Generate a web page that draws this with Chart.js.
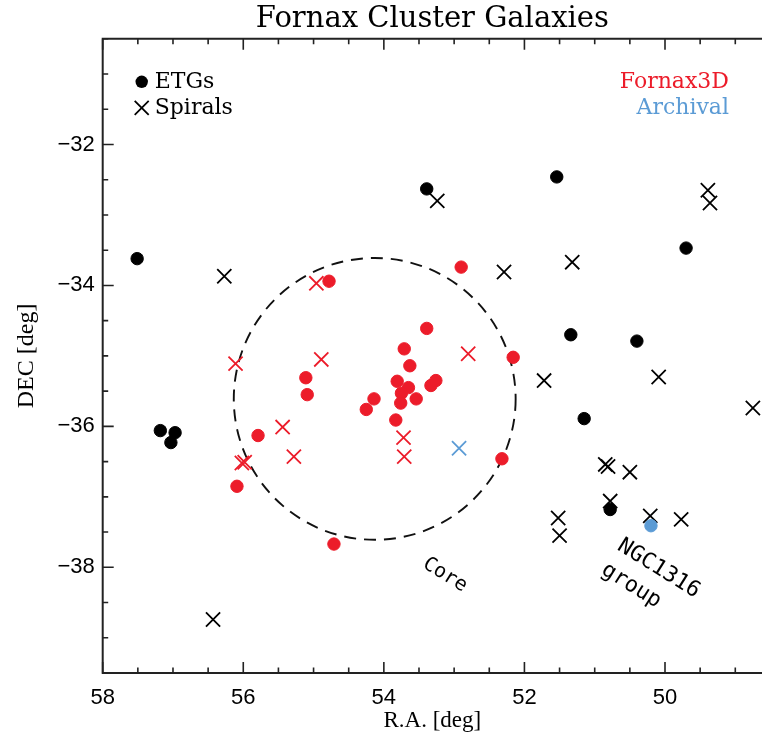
<!DOCTYPE html>
<html>
<head>
<meta charset="utf-8">
<script src="https://cdn.jsdelivr.net/npm/chart.js@4.4.1/dist/chart.umd.min.js"></script>
<style>
  body { margin: 0; background: #fff; overflow: hidden; }
  canvas { display: block; }
</style>
</head>
<body>
<canvas id="fornax" width="762" height="743"></canvas>
<script>
// Fornax cluster scatter: R.A. (reversed) vs DEC

var red = "#ec1c2a";
var blue = "#5b9bd5";

// tick labels
var raTicks = [58, 56, 54, 52, 50];
var decTicks = [-32, -34, -36, -38];

// Fornax3D early types (red dots)
var f3dEtgRA  = [54.78, 52.90, 53.39, 53.71, 53.63, 52.16, 55.11, 55.09, 53.81, 53.65, 53.75,
                 53.76, 53.54, 53.33, 53.26, 54.14, 54.25, 53.83, 52.32, 55.79, 56.09, 54.71];
var f3dEtgDEC = [-33.94, -33.74, -34.61, -34.90, -35.14, -35.02, -35.31, -35.55, -35.36, -35.45, -35.53,
                 -35.67, -35.61, -35.42, -35.35, -35.61, -35.76, -35.91, -36.46, -36.13, -36.85, -37.67];

// Fornax3D spirals (red crosses)
var f3dSpRA  = [54.96, 56.11, 54.89, 52.80, 55.44, 55.28, 56.02, 55.98, 53.72, 53.71];
var f3dSpDEC = [-33.97, -35.11, -35.05, -34.97, -36.01, -36.43, -36.52, -36.51, -36.16, -36.43];

// archival (blue)
var arcEtgRA = [50.20];
var arcEtgDEC = [-37.41];
var arcSpRA = [52.93];
var arcSpDEC = [-36.31];

// remaining cluster members (black)
var othEtgRA  = [57.51, 53.39, 51.54, 49.70, 51.34, 50.40, 51.15, 57.18, 56.97, 57.03, 50.78];
var othEtgDEC = [-33.62, -32.63, -32.46, -33.47, -34.70, -34.79, -35.89, -36.06, -36.09, -36.23, -37.18];
var othSpRA  = [56.27, 53.24, 52.29, 49.39, 49.36, 51.32, 51.72, 50.09, 48.75, 50.85, 50.81,
                50.50, 50.78, 50.21, 49.77, 51.52, 51.50, 56.43];
var othSpDEC = [-33.87, -32.80, -33.81, -32.65, -32.83, -33.67, -35.35, -35.30, -35.74, -36.54, -36.57,
                -36.65, -37.06, -37.27, -37.32, -37.30, -37.55, -38.74];

// core circle
var coreRA = 54.13, coreDEC = -35.61, coreRadius = 2.0;

function pts(ra, dec) {
    return ra.map(function (v, i) { return { x: v, y: dec[i] }; });
}

function dots(label, ra, dec, color) {
    return {
        label: label,
        data: pts(ra, dec),
        pointStyle: "circle",
        pointRadius: 6.2,
        pointHoverRadius: 6.2,
        backgroundColor: color,
        borderColor: color,
        borderWidth: 1
    };
}

function crosses(label, ra, dec, color) {
    return {
        label: label,
        data: pts(ra, dec),
        pointStyle: "crossRot",
        pointRadius: 10,
        pointHoverRadius: 10,
        backgroundColor: color,
        borderColor: color,
        borderWidth: 1.8
    };
}

var framePlugin = {
    id: "frame",
    beforeDatasetsDraw: function (chart) {
        var ctx = chart.ctx;
        var xs = chart.scales.x, ys = chart.scales.y;
        // core circle
        var cx = xs.getPixelForValue(coreRA), cy = ys.getPixelForValue(coreDEC);
        var r = Math.abs(ys.getPixelForValue(coreDEC - coreRadius) - cy);
        ctx.save();
        ctx.beginPath();
        ctx.setLineDash([12, 8]);
        ctx.lineWidth = 1.9;
        ctx.strokeStyle = "#111";
        ctx.arc(cx, cy, r, 0, Math.PI * 2);
        ctx.stroke();
        ctx.restore();
    },
    afterDraw: function (chart) {
        var ctx = chart.ctx, a = chart.chartArea;
        var xs = chart.scales.x, ys = chart.scales.y;
        ctx.save();
        ctx.strokeStyle = "#222";
        ctx.lineWidth = 2;
        ctx.beginPath();
        ctx.moveTo(a.right + 2, a.top);
        ctx.lineTo(a.left, a.top);
        ctx.lineTo(a.left, a.bottom);
        ctx.lineTo(a.right + 2, a.bottom);
        ctx.stroke();
        ctx.lineWidth = 1.6;
        ctx.beginPath();
        var v, p, len;
        for (v = 58; v >= xs.min - 1e-6; v -= 0.5) {
            p = xs.getPixelForValue(v);
            len = raTicks.indexOf(v) >= 0 ? 11 : 5.5;
            ctx.moveTo(p, a.bottom); ctx.lineTo(p, a.bottom - len);
            ctx.moveTo(p, a.top); ctx.lineTo(p, a.top + len);
        }
        for (v = -39.5; v <= -30.5 + 1e-6; v += 0.5) {
            p = ys.getPixelForValue(v);
            len = decTicks.indexOf(v) >= 0 ? 11 : 5.5;
            ctx.moveTo(a.left, p); ctx.lineTo(a.left + len, p);
        }
        ctx.stroke();

        // legend
        var lx = a.left + 39;
        ctx.fillStyle = "#000";
        ctx.beginPath();
        ctx.arc(lx, a.top + 43, 6.2, 0, Math.PI * 2);
        ctx.fill();
        ctx.lineWidth = 1.8;
        ctx.strokeStyle = "#000";
        ctx.beginPath();
        ctx.moveTo(lx - 7, a.top + 62); ctx.lineTo(lx + 7, a.top + 76);
        ctx.moveTo(lx - 7, a.top + 76); ctx.lineTo(lx + 7, a.top + 62);
        ctx.stroke();
        ctx.font = "22px 'DejaVu Serif'";
        ctx.textBaseline = "middle";
        ctx.textAlign = "left";
        ctx.fillText("ETGs", lx + 13, a.top + 43);
        ctx.fillText("Spirals", lx + 13, a.top + 69);
        ctx.textAlign = "right";
        ctx.fillStyle = red;
        ctx.fillText("Fornax3D", a.right - 33, a.top + 43);
        ctx.fillStyle = blue;
        ctx.fillText("Archival", a.right - 33, a.top + 69);

        // region labels
        ctx.fillStyle = "#000";
        ctx.textAlign = "center";
        var notes = [["Core", 53.13, -38.11, 20], ["NGC1316", 50.09, -38.02, 22], ["group", 50.48, -38.26, 22]];
        notes.forEach(function (n) {
            ctx.save();
            ctx.font = n[3] + "px 'DejaVu Sans Mono'";
            ctx.translate(xs.getPixelForValue(n[1]), ys.getPixelForValue(n[2]));
            ctx.rotate(32 * Math.PI / 180);
            ctx.fillText(n[0], 0, 0);
            ctx.restore();
        });
        ctx.restore();
    }
};

var canvasElement = document.getElementById("fornax");
var config = {
    type: "scatter",
    data: {
        datasets: [
            dots("ETGs (Fornax3D)", f3dEtgRA, f3dEtgDEC, red),
            crosses("Spirals (Fornax3D)", f3dSpRA, f3dSpDEC, red),
            dots("ETGs", othEtgRA, othEtgDEC, "#000"),
            dots("ETGs (Archival)", arcEtgRA, arcEtgDEC, blue),
            crosses("Spirals (Archival)", arcSpRA, arcSpDEC, blue),
            crosses("Spirals", othSpRA, othSpDEC, "#000")
        ]
    },
    options: {
        responsive: false,
        animation: false,
        events: [],
        layout: { padding: 0, autoPadding: false },
        plugins: {
            legend: { display: false },
            tooltip: { enabled: false },
            title: {
                display: true,
                fullSize: false,
                text: "Fornax Cluster Galaxies",
                color: "#000",
                padding: { top: 2, bottom: 2 },
                font: { size: 29, family: "'DejaVu Serif'", weight: "normal", lineHeight: 1.2 }
            }
        },
        scales: {
            x: {
                type: "linear",
                position: "bottom",
                reverse: true,
                min: 48.62,
                max: 58,
                afterFit: function (s) { s.height = 70; },
                afterBuildTicks: function (s) {
                    s.ticks = raTicks.map(function (v) { return { value: v }; });
                },
                grid: { display: false, drawTicks: false },
                border: { display: false },
                ticks: {
                    color: "#000",
                    padding: 12,
                    maxRotation: 0,
                    autoSkip: false,
                    font: { size: 22, family: "'Liberation Sans'" }
                },
                title: {
                    display: true,
                    text: "R.A. [deg]",
                    color: "#000",
                    padding: { top: 0, bottom: 8 },
                    font: { size: 23, family: "'Liberation Serif'" }
                }
            },
            y: {
                type: "linear",
                position: "left",
                min: -39.5,
                max: -30.5,
                afterFit: function (s) { s.width = 102.7; },
                afterBuildTicks: function (s) {
                    s.ticks = decTicks.map(function (v) { return { value: v }; });
                },
                grid: { display: false, drawTicks: false },
                border: { display: false },
                ticks: {
                    color: "#000",
                    padding: 8,
                    autoSkip: false,
                    font: { size: 22, family: "'Liberation Sans'" },
                    callback: function (v) { return "\u2212" + Math.abs(v); }
                },
                title: {
                    display: true,
                    text: "DEC [deg]",
                    color: "#000",
                    padding: { top: 12, bottom: 0 },
                    font: { size: 24, family: "'Liberation Serif'" }
                }
            }
        }
    },
    plugins: [framePlugin]
};

var fornaxChart = new Chart(canvasElement, config);
</script>
</body>
</html>
